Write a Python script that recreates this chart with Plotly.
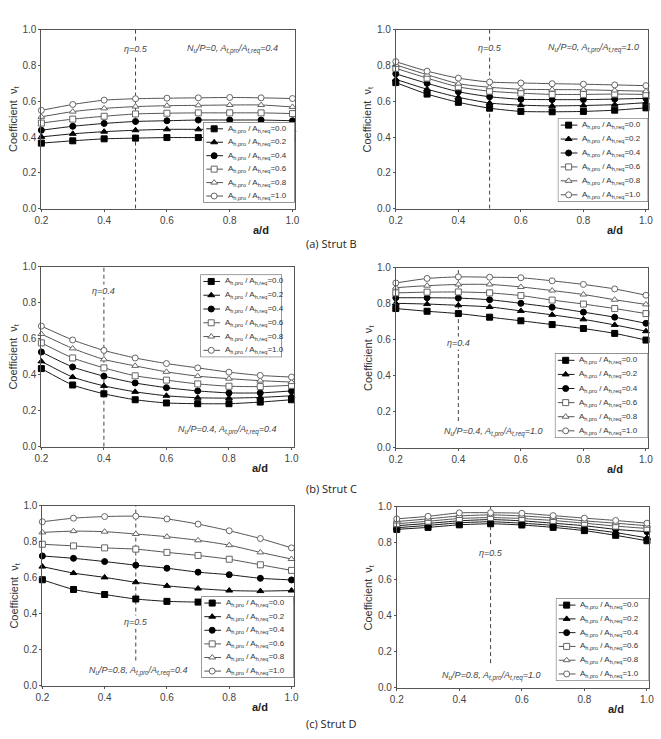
import plotly.graph_objects as go

W, H = 661, 739

# ---------------- data ----------------
a_d = [0.2, 0.3, 0.4, 0.5, 0.6, 0.7, 0.8, 0.9, 1.0]
ratio_labels = ["0.0", "0.2", "0.4", "0.6", "0.8", "1.0"]

# (a) Strut B, Nu/P=0, At=0.4
strutB_At04 = [
    [0.366, 0.379, 0.390, 0.394, 0.397, 0.397, 0.399, 0.399, 0.394],
    [0.401, 0.418, 0.430, 0.438, 0.443, 0.443, 0.443, 0.443, 0.438],
    [0.438, 0.460, 0.476, 0.487, 0.491, 0.495, 0.495, 0.495, 0.491],
    [0.478, 0.500, 0.516, 0.529, 0.533, 0.535, 0.535, 0.535, 0.531],
    [0.513, 0.542, 0.560, 0.570, 0.575, 0.577, 0.579, 0.579, 0.568],
    [0.549, 0.582, 0.606, 0.614, 0.617, 0.619, 0.621, 0.619, 0.615],
]
# (a) Strut B, Nu/P=0, At=1.0
strutB_At10 = [
    [0.704, 0.640, 0.594, 0.561, 0.543, 0.541, 0.543, 0.550, 0.563],
    [0.722, 0.667, 0.622, 0.590, 0.578, 0.574, 0.576, 0.581, 0.592],
    [0.753, 0.700, 0.653, 0.625, 0.611, 0.609, 0.609, 0.612, 0.616],
    [0.784, 0.729, 0.680, 0.656, 0.645, 0.638, 0.638, 0.640, 0.638],
    [0.803, 0.748, 0.698, 0.678, 0.667, 0.665, 0.664, 0.660, 0.656],
    [0.821, 0.768, 0.729, 0.707, 0.702, 0.698, 0.695, 0.691, 0.687],
]
# (b) Strut C, Nu/P=0.4, At=0.4
strutC_At04 = [
    [0.434, 0.343, 0.294, 0.261, 0.243, 0.239, 0.239, 0.248, 0.261],
    [0.474, 0.387, 0.338, 0.305, 0.283, 0.272, 0.270, 0.274, 0.283],
    [0.526, 0.443, 0.392, 0.354, 0.328, 0.310, 0.299, 0.299, 0.310],
    [0.577, 0.493, 0.438, 0.394, 0.370, 0.349, 0.336, 0.334, 0.341],
    [0.626, 0.546, 0.485, 0.449, 0.416, 0.392, 0.378, 0.367, 0.359],
    [0.670, 0.593, 0.535, 0.493, 0.462, 0.438, 0.414, 0.396, 0.387],
]
# (b) Strut C, Nu/P=0.4, At=1.0
strutC_At10 = [
    [0.773, 0.758, 0.745, 0.725, 0.705, 0.684, 0.662, 0.635, 0.598],
    [0.802, 0.798, 0.791, 0.782, 0.760, 0.738, 0.713, 0.682, 0.647],
    [0.833, 0.833, 0.831, 0.822, 0.802, 0.780, 0.753, 0.725, 0.691],
    [0.860, 0.864, 0.865, 0.860, 0.845, 0.820, 0.798, 0.773, 0.745],
    [0.889, 0.900, 0.907, 0.907, 0.893, 0.873, 0.851, 0.822, 0.796],
    [0.915, 0.940, 0.949, 0.947, 0.944, 0.927, 0.907, 0.882, 0.847],
]
# (c) Strut D, Nu/P=0.8, At=0.4
strutD_At04 = [
    [0.589, 0.535, 0.507, 0.482, 0.469, 0.465, 0.465, 0.470, 0.478],
    [0.662, 0.626, 0.602, 0.575, 0.555, 0.540, 0.529, 0.526, 0.529],
    [0.721, 0.708, 0.690, 0.670, 0.653, 0.631, 0.617, 0.597, 0.588],
    [0.786, 0.777, 0.766, 0.759, 0.741, 0.724, 0.703, 0.672, 0.641],
    [0.852, 0.859, 0.856, 0.843, 0.828, 0.808, 0.781, 0.741, 0.704],
    [0.911, 0.931, 0.940, 0.942, 0.927, 0.898, 0.861, 0.818, 0.766],
]
# (c) Strut D, Nu/P=0.8, At=1.0
strutD_At10 = [
    [0.875, 0.886, 0.900, 0.906, 0.899, 0.886, 0.868, 0.842, 0.812],
    [0.884, 0.897, 0.911, 0.917, 0.909, 0.897, 0.879, 0.857, 0.828],
    [0.895, 0.908, 0.922, 0.929, 0.922, 0.909, 0.895, 0.875, 0.862],
    [0.906, 0.920, 0.935, 0.940, 0.935, 0.924, 0.909, 0.893, 0.880],
    [0.918, 0.933, 0.949, 0.955, 0.949, 0.938, 0.922, 0.909, 0.895],
    [0.933, 0.947, 0.966, 0.967, 0.964, 0.951, 0.937, 0.924, 0.909],
]

eta_values = [0.5, 0.5, 0.4, 0.4, 0.5, 0.5]
nu_labels = ["0", "0", "0.4", "0.4", "0.8", "0.8"]
at_labels = ["0.4", "1.0", "0.4", "1.0", "0.4", "1.0"]
captions = ["(a) Strut B", "(b) Strut C", "(c) Strut D"]
panel_data = [strutB_At04, strutB_At10, strutC_At04, strutC_At10, strutD_At04, strutD_At10]

# ---------------- styles / layout ----------------
symbols = ["square", "triangle-up", "circle", "square", "triangle-up", "circle"]
filled = [True, True, True, False, False, False]
MS = 6

def px(x):
    return x / W

def py(y):
    return 1 - y / H

# plot area in pixels: (left, right, top, bottom)
areas = [
    (35, 293, 24, 206), (396, 653, 24, 206),
    (35, 292, 265, 448), (396, 653, 266, 449),
    (36, 292, 508, 691), (397, 654, 509, 693),
]
# legend boxes in pixels
leg_boxes = [
    (200, 293, 118, 200), (561, 653, 114, 199),
    (197, 280, 273, 357), (558, 653, 353, 439),
    (198, 292, 600, 683), (559, 654, 602, 686),
]
eta_line_bottom = [0.0, 0.0, 0.0, 0.148, 0.14, 0.136]
eta_text_y = [44, 43, 290, 343, 626, 556]
nu_text_xy = [(230, 44), (597, 43), (224, 431), (495, 433), (133, 676), (493, 681)]
caption_y = [241, 490, 729]

FONT = "Liberation Sans, Arial, sans-serif"
AXC = "#555555"
TXT = "#3a3a3a"

def mk(k):
    return dict(symbol=symbols[k], size=MS,
                color="#000" if filled[k] else "white",
                line=dict(color="#000" if filled[k] else "#666", width=1))

def lcol(k):
    return "#1a1a1a" if filled[k] else "#555555"

fig = go.Figure()
layout = dict(
    width=W, height=H, margin=dict(l=0, r=0, t=0, b=0),
    paper_bgcolor="white", plot_bgcolor="white", showlegend=False,
    font=dict(family=FONT, size=10, color=TXT),
)
shapes = []
annotations = []

for p in range(6):
    l, r, t, b = areas[p]
    ax = "" if p == 0 else str(p + 1)
    xa, ya = "x" + ax, "y" + ax
    layout["xaxis" + ax] = dict(
        domain=[px(l), px(r)], anchor=ya, range=[0.2, 1.007],
        tickvals=[0.2, 0.4, 0.6, 0.8, 1.0], tickformat=".1f",
        showline=True, linecolor=AXC, linewidth=1, mirror=True,
        showgrid=False, zeroline=False, ticks="outside", ticklen=2, tickcolor=AXC,
        tickfont=dict(size=10, color="#444"),
    )
    layout["yaxis" + ax] = dict(
        domain=[py(b), py(t)], anchor=xa, range=[0, 1.0],
        tickvals=[0, 0.2, 0.4, 0.6, 0.8, 1.0], tickformat=".1f",
        showline=True, linecolor=AXC, linewidth=1, mirror=True,
        showgrid=False, zeroline=False, ticks="outside", ticklen=2, tickcolor=AXC,
        tickfont=dict(size=10, color="#444"),
    )
    shapes.append(dict(type="line", xref=xa, yref=ya, x0=eta_values[p], x1=eta_values[p],
                       y0=eta_line_bottom[p], y1=1.0, layer="below",
                       line=dict(color="#444", width=1, dash="4px,3px")))
    for k in range(6):
        fig.add_trace(go.Scatter(
            x=a_d, y=panel_data[p][k], xaxis=xa, yaxis=ya, mode="lines+markers",
            cliponaxis=False,
            line=dict(color=lcol(k), width=1, shape="spline", smoothing=0.6),
            marker=mk(k),
        ))
    annotations.append(dict(x=eta_values[p], xref=xa, y=py(eta_text_y[p]), yref="paper",
                            xanchor="center", yanchor="middle",
                            text="<i>η=%s</i>" % eta_values[p],
                            showarrow=False, bgcolor="white", borderpad=1,
                            font=dict(size=9, color="#444")))
    nx, ny = nu_text_xy[p]
    annotations.append(dict(x=px(nx), y=py(ny), xref="paper", yref="paper",
                            xanchor="center", yanchor="middle",
                            text="<i>N<sub>u</sub>/P=%s, A<sub>t,pro</sub>/A<sub>t,req</sub>=%s</i>"
                                 % (nu_labels[p], at_labels[p]),
                            showarrow=False, bgcolor="white", borderpad=1,
                            font=dict(size=9, color="#444")))
    annotations.append(dict(x=px(l - 28), y=py((t + b) / 2), xref="paper", yref="paper",
                            xanchor="center", yanchor="middle",
                            text="Coefficient  ν<sub>t</sub>", textangle=-90, showarrow=False,
                            font=dict(size=11, color="#333")))
    annotations.append(dict(x=px(r - 34), y=py(b + 22), xref="paper", yref="paper",
                            xanchor="center", yanchor="middle",
                            text="<b>a/d</b>", showarrow=False,
                            font=dict(size=11, color="#222")))
    # custom legend on overlay axes
    bl, br, bt, bb = leg_boxes[p]
    lx = "x" + str(p + 7)
    ly = "y" + str(p + 7)
    bw = br - bl
    layout["xaxis" + str(p + 7)] = dict(domain=[px(bl), px(br)], range=[0, bw],
                                        visible=False, fixedrange=True, anchor=ly)
    layout["yaxis" + str(p + 7)] = dict(domain=[py(bb), py(bt)], range=[0, 6],
                                        visible=False, fixedrange=True, anchor=lx)
    fig.add_trace(go.Scatter(
        x=[0, bw, bw, 0, 0], y=[0, 0, 6, 6, 0], xaxis=lx, yaxis=ly, mode="lines",
        fill="toself", fillcolor="white", cliponaxis=False, hoverinfo="skip",
        line=dict(color="#444", width=1),
    ))
    for k in range(6):
        yy = 5.5 - k
        fig.add_trace(go.Scatter(
            x=[3, 20], y=[yy, yy], xaxis=lx, yaxis=ly, mode="lines",
            cliponaxis=False, hoverinfo="skip", line=dict(color=lcol(k), width=1),
        ))
        fig.add_trace(go.Scatter(
            x=[11], y=[yy], xaxis=lx, yaxis=ly, mode="markers",
            cliponaxis=False, hoverinfo="skip", marker=mk(k),
        ))
        annotations.append(dict(x=23, y=yy, xref=lx, yref=ly, xanchor="left",
                                yanchor="middle",
                                text="A<sub>h,pro</sub> / A<sub>h,req</sub>=" + ratio_labels[k],
                                showarrow=False, font=dict(size=8, color="#333")))

for i, c in enumerate(captions):
    annotations.append(dict(x=0.5, y=py(caption_y[i]), xref="paper", yref="paper",
                            xanchor="center", yanchor="middle",
                            text=c, showarrow=False,
                            font=dict(family="Open Sans, sans-serif", size=11, color="#222")))

layout["shapes"] = shapes
layout["annotations"] = annotations
fig.update_layout(**layout)
fig.write_html("out.html")
